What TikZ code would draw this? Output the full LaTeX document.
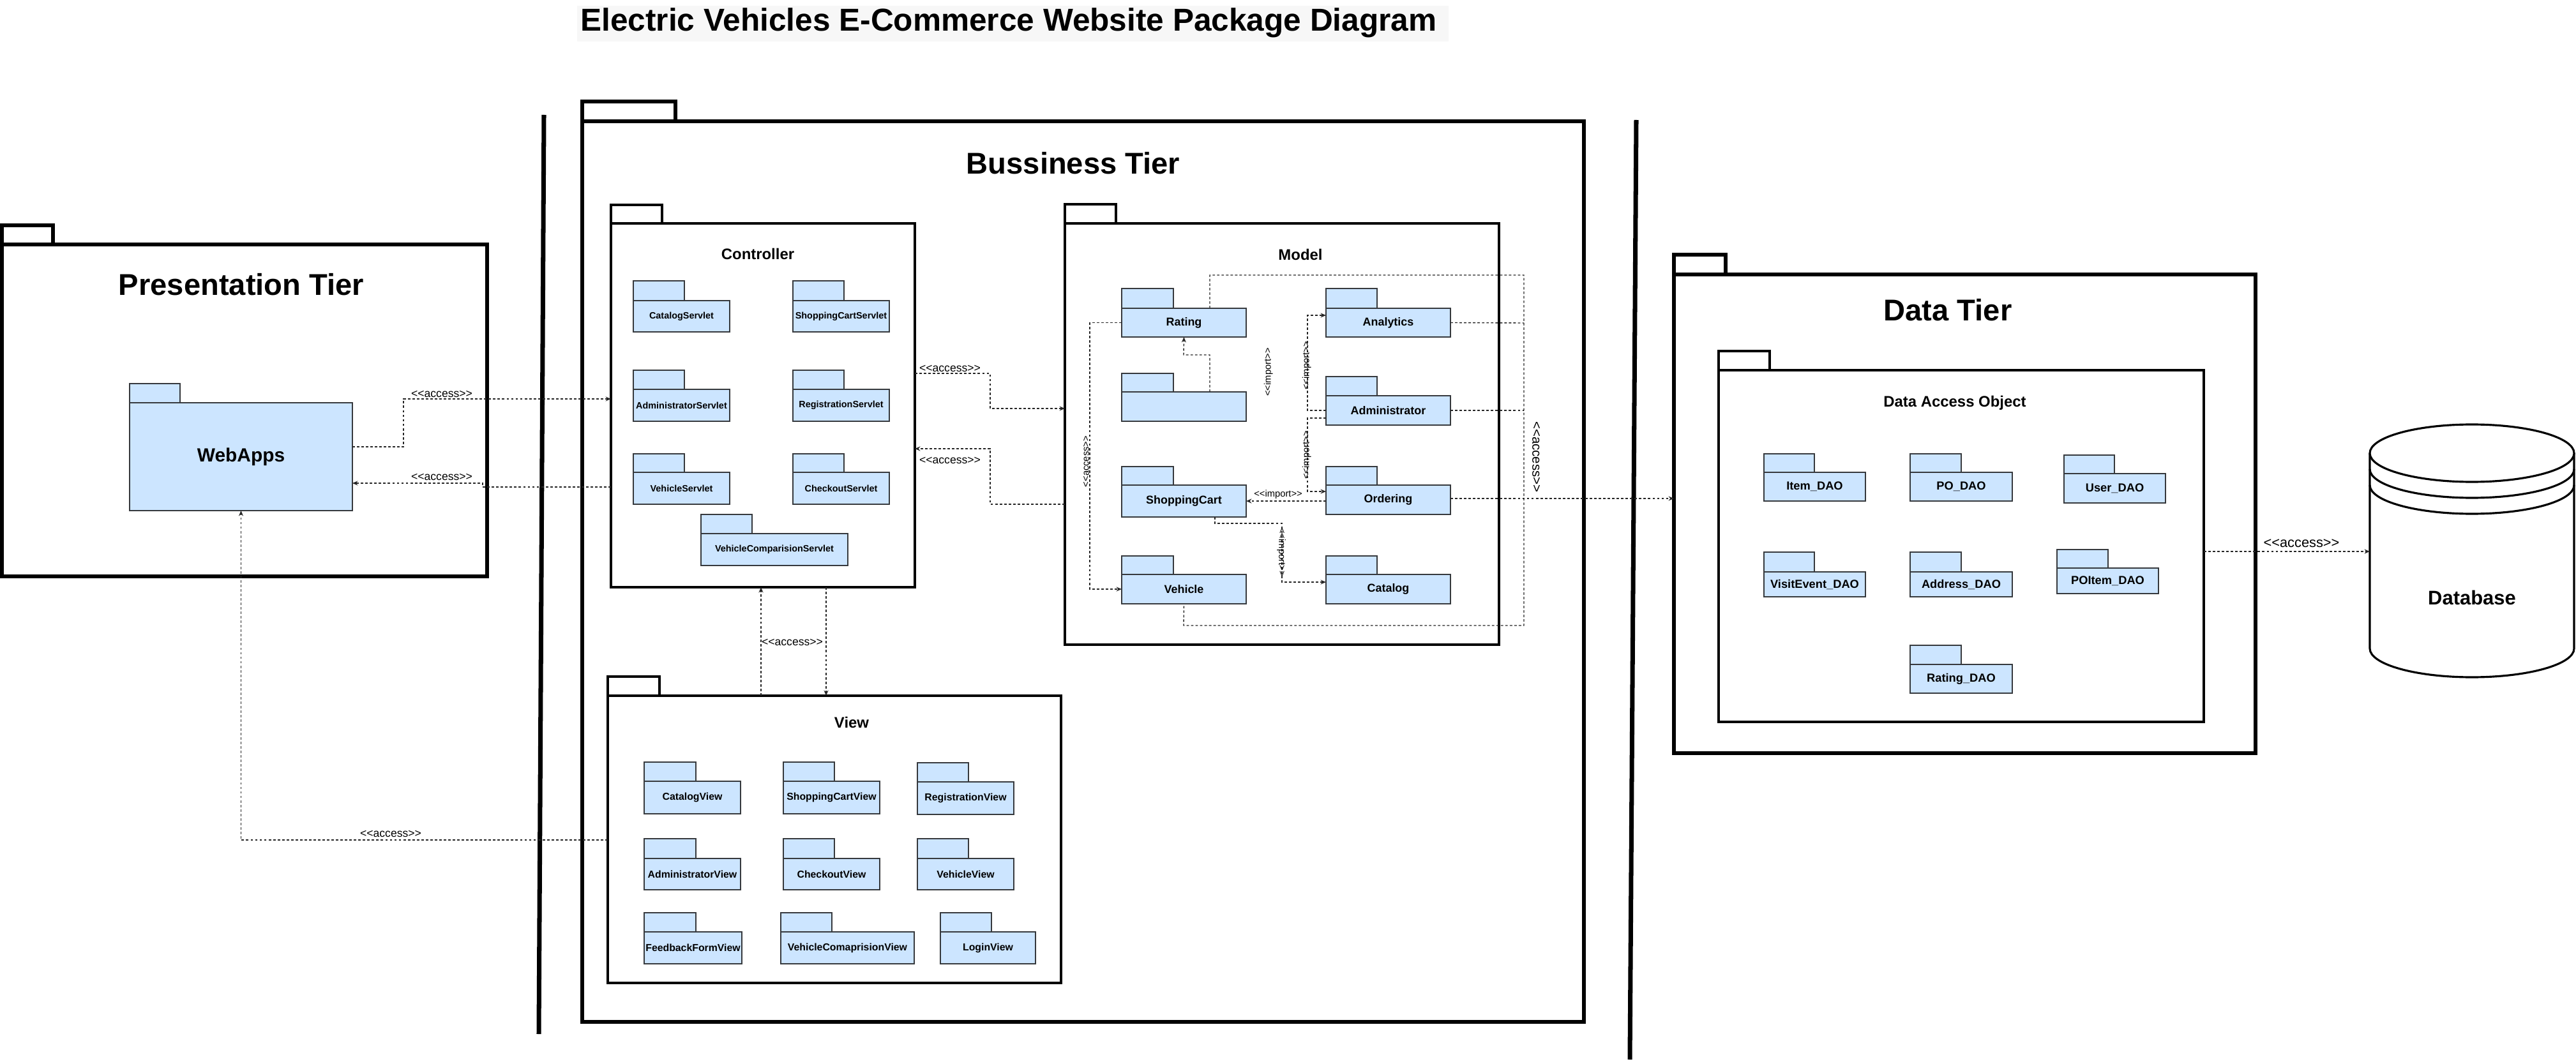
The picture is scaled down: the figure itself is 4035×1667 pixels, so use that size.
\documentclass[tikz,border=0pt]{standalone}
\usepackage{fontspec}
\setmainfont{Liberation Sans}
\usetikzlibrary{arrows.meta,calc}
\definecolor{pkgblue}{HTML}{CCE5FF}
\definecolor{pkgline}{HTML}{36393D}
\newcommand\fsz[1]{\fontsize{#1}{#1}\selectfont}
\newcommand\stt[1]{<\kern0pt<#1>\kern0pt>}
% #1 style, #2 name, #3 x1, #4 body top, #5 x2, #6 bottom, #7 tab right, #8 tab top, #9 text
\newcommand\mypkg[9]{%
  \draw[#1] (#3,#8) rectangle (#7,#4);
  \node[#1,anchor=north west,inner sep=0pt,outer sep=0pt,
        minimum width={(#5-#3)*0.01cm},minimum height={(#6-#4)*0.01cm}] (#2) at (#3,#4) {#9};
}
\tikzset{
  tier/.style={draw=black,line width=1.45pt,fill=white},
  subp/.style={draw=black,line width=1pt,fill=white},
  smallp/.style={draw=pkgline,line width=0.45pt,fill=pkgblue},
  ctrlp/.style={smallp,font=\bfseries\fsz{4.1}},
  viewp/.style={smallp,font=\bfseries\fsz{4.5}},
  modp/.style={smallp,font=\bfseries\fsz{5.1}},
  daop/.style={smallp,font=\bfseries\fsz{5.2}},
  webp/.style={smallp,font=\bfseries\fsz{8.5}},
  conn/.style={draw=black!85,line width=0.4pt,dash pattern=on 1.1pt off 0.9pt},
  arr/.style={conn,-{Stealth[length=2.4pt,width=2pt]}},
  lbl/.style={inner sep=0pt,text height=0.716em,text depth=0pt},
  bigtitle/.style={lbl,font=\bfseries\fsz{13.4}},
  subtitle/.style={lbl,font=\bfseries\fsz{6.8}},
  clab/.style={lbl,font=\fsz{5}},
  mlab/.style={lbl,font=\fsz{4.2}},
  sep/.style={line width=2pt},
}
\begin{document}
\begin{tikzpicture}[x=0.01cm,y=-0.01cm,line join=miter]
\useasboundingbox (0,0) rectangle (4035,1667);

% main title
\fill[black!3] (904,9) rectangle (2269,65);
\node[lbl,font=\bfseries\fsz{14.1}] (title) at (1580,36) {Electric Vehicles E-Commerce Website Package Diagram};

% separators
\draw[sep] (852,180) -- (844,1620);
\draw[sep] (2563,188) -- (2553,1660);

% ---------- Presentation tier
\mypkg{tier}{pres}{3}{383}{763}{903}{83}{353}{}
\node[bigtitle] (presT) at (378,450) {Presentation Tier};
\mypkg{webp}{webapps}{203}{631}{552}{800}{282}{601}{WebApps}

% ---------- Bussiness tier
\mypkg{tier}{bus}{912}{190}{2481}{1601}{1058}{159}{}
\node[bigtitle] (busT) at (1681,260) {Bussiness Tier};

% Controller
\mypkg{subp}{ctrl}{957}{350}{1433}{920}{1037}{321}{}
\node[subtitle] (ctrlT) at (1187,394) {Controller};
\mypkg{ctrlp}{catS}{992}{471}{1143}{520}{1072}{440}{CatalogServlet}
\mypkg{ctrlp}{cartS}{1242}{471}{1393}{520}{1322}{440}{ShoppingCartServlet}
\mypkg{ctrlp}{adminS}{992}{610}{1143}{660}{1072}{580}{AdministratorServlet}
\mypkg{ctrlp}{regS}{1242}{610}{1393}{660}{1322}{580}{RegistrationServlet}
\mypkg{ctrlp}{vehS}{992}{740}{1143}{790}{1072}{711}{VehicleServlet}
\mypkg{ctrlp}{chkS}{1242}{740}{1393}{790}{1322}{711}{CheckoutServlet}
\mypkg{ctrlp}{cmpS}{1098}{836}{1328}{886}{1178}{806}{VehicleComparisionServlet}

% Model
\mypkg{subp}{model}{1668}{350}{2348}{1010}{1748}{320}{}
\node[subtitle] (modelT) at (2037,395) {Model};
\mypkg{modp}{rating}{1757}{483}{1952}{528}{1838}{452}{Rating}
\mypkg{modp}{unnamed}{1757}{614}{1952}{660}{1838}{585}{}
\mypkg{modp}{cart}{1757}{760}{1952}{810}{1838}{731}{ShoppingCart}
\mypkg{modp}{vehicle}{1757}{900}{1952}{946}{1838}{871}{Vehicle}
\mypkg{modp}{analytics}{2077}{483}{2272}{528}{2157}{452}{Analytics}
\mypkg{modp}{admin}{2077}{620}{2272}{666}{2157}{590}{Administrator}
\mypkg{modp}{ordering}{2077}{760}{2272}{806}{2157}{731}{Ordering}
\mypkg{modp}{catalog}{2077}{900}{2272}{946}{2157}{871}{Catalog}

% View
\mypkg{subp}{view}{952}{1090}{1662}{1540}{1033}{1060}{}
\node[subtitle] (viewT) at (1334,1128) {View};
\mypkg{viewp}{catV}{1009}{1224}{1160}{1275}{1090}{1194}{CatalogView}
\mypkg{viewp}{cartV}{1227}{1224}{1378}{1275}{1307}{1194}{ShoppingCartView}
\mypkg{viewp}{regV}{1437}{1225}{1588}{1276}{1517}{1195}{RegistrationView}
\mypkg{viewp}{adminV}{1009}{1345}{1160}{1394}{1090}{1314}{AdministratorView}
\mypkg{viewp}{chkV}{1227}{1345}{1378}{1394}{1307}{1314}{CheckoutView}
\mypkg{viewp}{vehV}{1437}{1345}{1588}{1394}{1517}{1314}{VehicleView}
\mypkg{viewp}{fbV}{1009}{1460}{1162}{1510}{1090}{1430}{FeedbackFormView}
\mypkg{viewp}{cmpV}{1223}{1460}{1432}{1510}{1303}{1430}{VehicleComaprisionView}
\mypkg{viewp}{loginV}{1473}{1460}{1622}{1510}{1553}{1430}{LoginView}

% ---------- Data tier
\mypkg{tier}{data}{2622}{430}{3533}{1180}{2703}{399}{}
\node[bigtitle] (dataT) at (3051,490) {Data Tier};
\mypkg{subp}{dao}{2692}{580}{3452}{1131}{2772}{550}{}
\node[subtitle] (daoT) at (3062,625) {Data Access Object};
\mypkg{daop}{itemD}{2763}{740}{2922}{785}{2842}{711}{Item\_DAO}
\mypkg{daop}{poD}{2992}{740}{3152}{785}{3072}{711}{PO\_DAO}
\mypkg{daop}{userD}{3233}{742}{3392}{788}{3312}{713}{User\_DAO}
\mypkg{daop}{visitD}{2763}{896}{2922}{935}{2842}{865}{VisitEvent\_DAO}
\mypkg{daop}{addrD}{2992}{896}{3152}{935}{3072}{865}{Address\_DAO}
\mypkg{daop}{poitemD}{3222}{890}{3381}{930}{3302}{861}{POItem\_DAO}
\mypkg{daop}{ratingD}{2992}{1041}{3152}{1086}{3072}{1011}{Rating\_DAO}

% ---------- Database
\node[inner sep=0pt,outer sep=0pt,minimum width={320*0.01cm},minimum height={396*0.01cm}] (db) at (3872,863) {};
\fill[white] (3712,710) -- (3712,1016) arc[start angle=180,end angle=0,x radius=160,y radius=45] -- (4032,710) -- cycle;
\draw[line width=0.9pt] (3712,710) -- (3712,1016) arc[start angle=180,end angle=0,x radius=160,y radius=45] -- (4032,710);
\draw[line width=0.9pt,fill=white] (3872,710) ellipse[x radius=160,y radius=45];
\draw[line width=0.9pt] (3712,735) arc[start angle=180,end angle=0,x radius=160,y radius=45];
\draw[line width=0.9pt] (3712,760) arc[start angle=180,end angle=0,x radius=160,y radius=45];
\node[lbl,font=\bfseries\fsz{8.8}] (dbT) at (3872,935) {Database};

% ---------- connectors
% WebApps <-> Controller
\draw[arr] (webapps.east |- 0,700) -| (632,625) -- (ctrl.west |- 0,625);
\node[clab] (l1) at (692,610) {\stt{access}};
\draw[arr] (ctrl.west |- 0,763) -- (756,763) -- (756,757) -- (webapps.east |- 0,757);
\node[clab] (l2) at (692,740) {\stt{access}};
% View -> WebApps
\draw[arr] (view.west |- 0,1316) -| (webapps.south);
\node[clab] (l3) at (612,1299) {\stt{access}};
% Controller <-> View
\draw[arr] (view.north -| 1192,0) -- (ctrl.south -| 1192,0);
\draw[arr] (ctrl.south -| 1294,0) -- (view.north -| 1294,0);
\node[clab] (l4) at (1241,999) {\stt{access}};
% Controller <-> Model
\draw[arr] (ctrl.east |- 0,585) -| (1551,640) -- (model.west |- 0,640);
\node[clab] (l5) at (1488,570) {\stt{access}};
\draw[arr] (model.west |- 0,790) -| (1551,703) -- (ctrl.east |- 0,703);
\node[clab] (l6) at (1488,714) {\stt{access}};

% inside Model
\draw[arr] (rating.west) -| (1707,923) -- (vehicle.west);
\node[mlab,rotate=90] (l7) at (1693,723) {\stt{access}};
\draw[arr] (unnamed.north -| 1895,0) |- (1854,556) -- (rating.south);
\node[mlab,rotate=90] (l8) at (1978,583) {\stt{import}};
\draw[arr] (admin.west |- 0,643) -| (2048,494) -- (analytics.west |- 0,494);
\node[mlab,rotate=90] (l9) at (2038,573) {\stt{import}};
\draw[arr] (admin.west |- 0,655) -| (2048,770) -- (ordering.west |- 0,770);
\node[mlab,rotate=90] (l10) at (2038,713) {\stt{import}};
\draw[arr] (ordering.west |- 0,785) -- (cart.east |- 0,785);
\node[mlab] (l11) at (2002,766) {\stt{import}};
\draw[arr] (cart.south -| 1903,0) |- (2008,820) |- (catalog.west |- 0,912);
\node[mlab,rotate=-90] (l12) at (2016,865) {\stt{import}};

% Model -> Data tier
\draw[conn] (rating.north -| 1895,0) |- (2387,431) |- (1854,980) -- (vehicle.south);
\draw[conn] (analytics.east) -- (2387,506);
\draw[conn] (admin.east) -- (2387,643);
\draw[arr] (ordering.east |- 0,781) -- (data.west |- 0,781);
\node[lbl,font=\fsz{5.8},rotate=-90] (l13) at (2413,716) {\stt{access}};

% DAO -> Database
\draw[arr] (dao.east |- 0,864) -- (db.west |- 0,864);
\node[lbl,font=\fsz{6.2}] (l14) at (3605,845) {\stt{access}};
\end{tikzpicture}
\end{document}
